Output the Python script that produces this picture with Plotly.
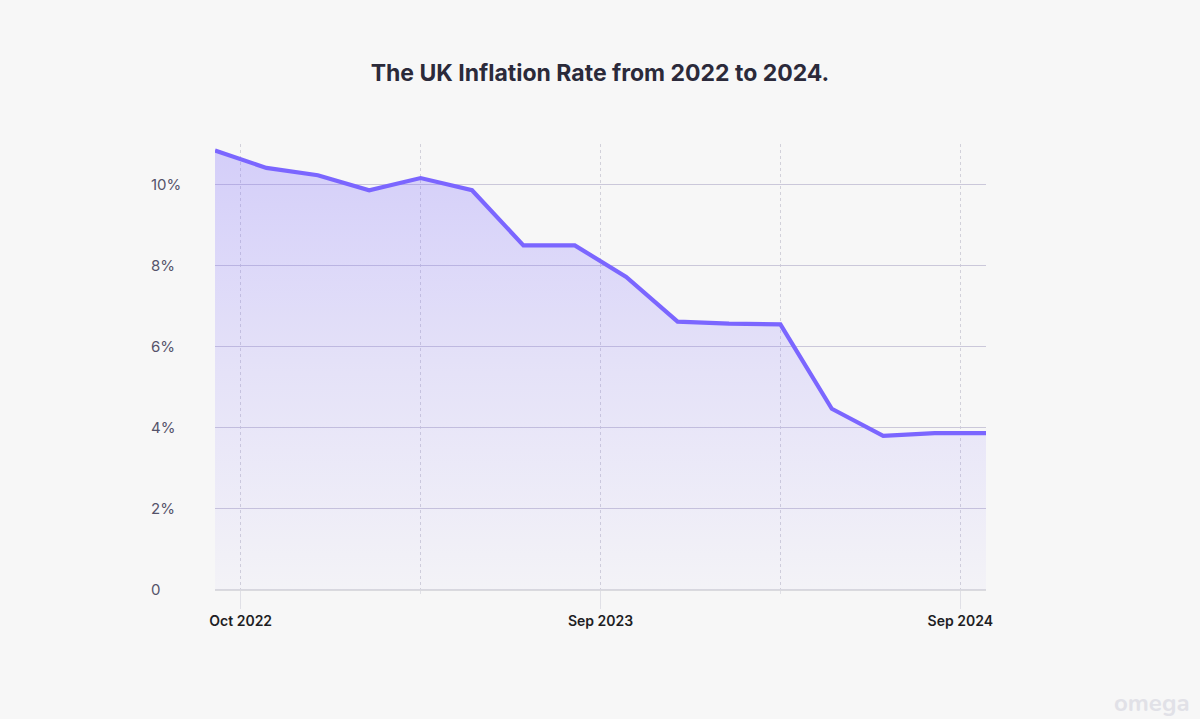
import plotly.graph_objects as go

# ---- data ----
period_index = list(range(16))
inflation = [10.84, 10.41, 10.23, 9.86, 10.16, 9.86, 8.5, 8.5, 7.72, 6.62, 6.57, 6.55, 4.47, 3.8, 3.87, 3.87]

x_label_positions = [0.5, 7.5, 14.5]
x_labels = ["Oct 2022", "Sep 2023", "Sep 2024"]
x_minor_positions = [4, 11]

y_tick_values = [0, 2, 4, 6, 8, 10]
y_tick_labels = ["0", "2%", "4%", "6%", "8%", "10%"]

title_text = "The UK Inflation Rate from 2022 to 2024."

BG = "#f7f7f7"
LINE = "#7b66ff"
FONT = "Inter"
VGRID = "#d2d1da"

fig = go.Figure()

fig.add_trace(go.Scatter(
    x=period_index, y=inflation,
    mode="lines",
    line=dict(color=LINE, width=4.2, shape="linear"),
    fill="tozeroy",
    fillgradient=dict(
        type="vertical",
        start=0, stop=11,
        colorscale=[[0, "rgba(124,104,255,0.03)"],
                    [0.5, "rgba(124,104,255,0.15)"],
                    [1, "rgba(124,104,255,0.29)"]],
    ),
    hoverinfo="skip",
    showlegend=False,
))

# invisible trace so the left-aligned label axis is drawn
fig.add_trace(go.Scatter(
    x=period_index, y=inflation, yaxis="y2",
    mode="lines", line=dict(width=0), hoverinfo="skip", showlegend=False,
))

W, H = 1200, 719
ml, mr, mt, mb = 147, 214, 144, 129
dom0 = (215 - ml) / (W - ml - mr)

fig.update_layout(
    width=W, height=H,
    paper_bgcolor=BG, plot_bgcolor=BG,
    margin=dict(l=ml, r=mr, t=mt, b=mb),
    title=dict(
        text=title_text,
        x=0.5, xanchor="center",
        y=1 - 73 / H, yref="container", yanchor="middle",
        font=dict(family=FONT, size=23, color="#2b2a3a", weight=700),
    ),
    xaxis=dict(
        domain=[dom0, 1],
        range=[0, 15],
        tickmode="array", tickvals=x_label_positions, ticktext=x_labels,
        showgrid=True, gridcolor=VGRID, griddash="dot", gridwidth=1,
        ticks="outside", ticklen=18, tickcolor="#e0e0e6", tickwidth=1,
        tickfont=dict(family=FONT, size=14, color="#1e1e24", weight=600),
        minor=dict(tickmode="array", tickvals=x_minor_positions, showgrid=True,
                   gridcolor=VGRID, griddash="dot", gridwidth=1,
                   ticks="outside", ticklen=3, tickcolor="#e0e0e6"),
        showline=False, zeroline=False, fixedrange=True,
    ),
    yaxis=dict(
        range=[0, 11],
        tickmode="array", tickvals=y_tick_values,
        showticklabels=False,
        showgrid=True, gridcolor="#cbc8da", gridwidth=1.2,
        zeroline=True, zerolinecolor="#dadade", zerolinewidth=2,
        showline=False, fixedrange=True,
    ),
    yaxis2=dict(
        overlaying="y", matches="y", anchor="free", position=0, side="left",
        range=[0, 11],
        tickmode="array", tickvals=y_tick_values, ticktext=y_tick_labels,
        ticklabelposition="inside", ticklabeloverflow="allow",
        tickfont=dict(family=FONT, size=15, color="#55536a"),
        showgrid=False, zeroline=False, showline=False, ticks="",
        fixedrange=True,
    ),
    annotations=[dict(
        text="omega", xref="paper", yref="paper",
        x=1 + (1192 - (W - mr)) / (W - ml - mr), y=-(703 - (H - mb)) / (H - mt - mb),
        xanchor="right", yanchor="middle", showarrow=False,
        font=dict(family="Nunito, Lato, sans-serif", size=24, color="#e1e1e7", weight=700),
    )],
)

fig.write_html(
    "out.html",
    config={"displayModeBar": False},
    post_script="document.body.style.margin='0';document.body.style.padding='0';",
)
